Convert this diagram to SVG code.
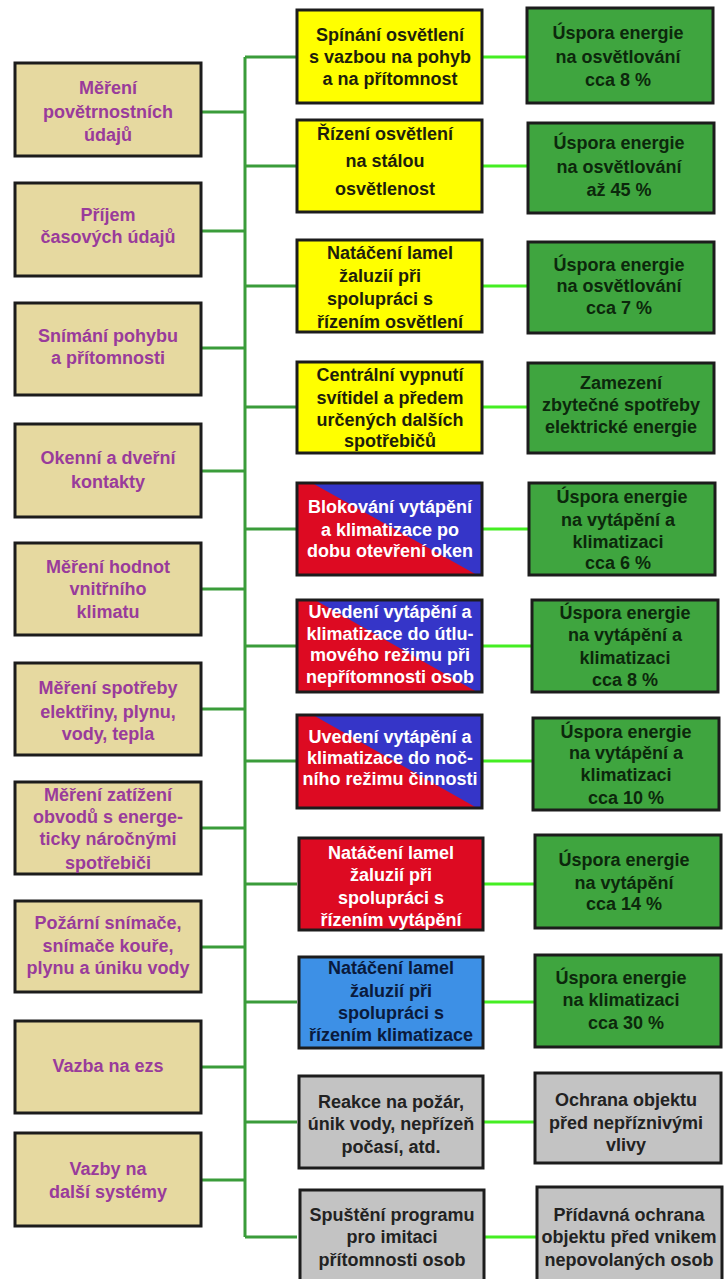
<svg xmlns="http://www.w3.org/2000/svg" width="724" height="1279" viewBox="0 0 724 1279">
<style>
.box{stroke:#1c1c1c;stroke-width:3}
.src{fill:#e6d9a0}
.yel{fill:#ffff00}
.grn{fill:#3fa53f}
.red{fill:#dd0a22}
.blu{fill:#3535c8}
.lbl{fill:#3d90e6}
.gry{fill:#c3c3c3}
text{font-family:"Liberation Sans",Arial,sans-serif;font-weight:bold;font-size:18px;text-anchor:middle}
.tp{fill:#993b9b}
.td{fill:#1e1e0c}
.tg{fill:#0c280c}
.tw{fill:#ffffff}
.tb{fill:#0a1a3c}
.tk{fill:#222222}
.cd{stroke:#3a9c3a;stroke-width:3;fill:none}
.cb{stroke:#44ee22;stroke-width:3;fill:none}
</style>
<rect width="724" height="1279" fill="#ffffff"/>
<g id="connectors">
<path class="cd" d="M201 112H245M201 231H245M201 348H245M201 471H245M201 589H245M201 709H245M201 828H245M201 947H245M201 1067H245M201 1180H245"/>
<path class="cd" d="M245 57V1237"/>
<path class="cd" d="M245 57H297M245 166H297M245 286H297M245 407H297M245 529H297M245 646H297M245 761H297M245 884H297M245 1002H297M245 1122H297M245 1237H297"/>
<path class="cb" d="M482 57H527M482 166H527M482 286H527M482 407H527M482 529H529M482 646H532M482 761H533M482 884H535M482 1002H535M482 1122H535M482 1237H537"/>
</g>
<g id="s1"><rect class="box src" x="15" y="63" width="186" height="93"/><text class="tp"><tspan x="108" y="94">Měření</tspan><tspan x="108" y="118">povětrnostních</tspan><tspan x="108" y="141">údajů</tspan></text></g>
<g id="s2"><rect class="box src" x="15" y="183" width="186" height="93"/><text class="tp"><tspan x="108" y="221">Příjem</tspan><tspan x="108" y="243">časových údajů</tspan></text></g>
<g id="s3"><rect class="box src" x="15" y="303" width="186" height="92"/><text class="tp"><tspan x="108" y="342">Snímání pohybu</tspan><tspan x="108" y="364">a přítomnosti</tspan></text></g>
<g id="s4"><rect class="box src" x="15" y="424" width="186" height="93"/><text class="tp"><tspan x="108" y="464">Okenní a dveřní</tspan><tspan x="108" y="488">kontakty</tspan></text></g>
<g id="s5"><rect class="box src" x="15" y="543" width="186" height="92"/><text class="tp"><tspan x="108" y="573">Měření hodnot</tspan><tspan x="108" y="595">vnitřního</tspan><tspan x="108" y="618">klimatu</tspan></text></g>
<g id="s6"><rect class="box src" x="15" y="663" width="186" height="92"/><text class="tp"><tspan x="108" y="694">Měření spotřeby</tspan><tspan x="108" y="718">elektřiny, plynu,</tspan><tspan x="108" y="740">vody, tepla</tspan></text></g>
<g id="s7"><rect class="box src" x="15" y="782" width="186" height="92"/><text class="tp"><tspan x="108" y="801">Měření zatížení</tspan><tspan x="108" y="823">obvodů s energe-</tspan><tspan x="108" y="845">ticky náročnými</tspan><tspan x="108" y="869">spotřebiči</tspan></text></g>
<g id="s8"><rect class="box src" x="15" y="901" width="186" height="91"/><text class="tp"><tspan x="108" y="929">Požární snímače,</tspan><tspan x="108" y="952">snímače kouře,</tspan><tspan x="108" y="974">plynu a úniku vody</tspan></text></g>
<g id="s9"><rect class="box src" x="15" y="1021" width="186" height="92"/><text class="tp"><tspan x="108" y="1072">Vazba na ezs</tspan></text></g>
<g id="s10"><rect class="box src" x="15" y="1133" width="186" height="93"/><text class="tp"><tspan x="108" y="1175">Vazby na</tspan><tspan x="108" y="1198">další systémy</tspan></text></g>

<g id="m1"><rect class="box yel" x="297" y="10" width="185" height="93"/><text class="td"><tspan x="390" y="41">Spínání osvětlení</tspan><tspan x="390" y="63">s vazbou na pohyb</tspan><tspan x="390" y="85">a na přítomnost</tspan></text></g>
<g id="m2"><rect class="box yel" x="297" y="120" width="185" height="92"/><text class="td"><tspan x="385" y="140">Řízení osvětlení</tspan><tspan x="385" y="167">na stálou</tspan><tspan x="385" y="195">osvětlenost</tspan></text></g>
<g id="m3"><rect class="box yel" x="297" y="240" width="185" height="92"/><text class="td"><tspan x="390" y="259">Natáčení lamel</tspan><tspan x="380" y="282">žaluzií při</tspan><tspan x="380" y="305">spolupráci s</tspan><tspan x="390" y="328">řízením osvětlení</tspan></text></g>
<g id="m4"><rect class="box yel" x="297" y="362" width="185" height="91"/><text class="td"><tspan x="390" y="381">Centrální vypnutí</tspan><tspan x="390" y="404">svítidel a předem</tspan><tspan x="390" y="426">určených dalších</tspan><tspan x="390" y="447">spotřebičů</tspan></text></g>
<g id="m5"><rect class="blu" x="297" y="483" width="185" height="92"/><polygon class="red" points="297,483 312,483 477,575 297,575"/><rect class="box" fill="none" x="297" y="483" width="185" height="92"/><text class="tw"><tspan x="390" y="513">Blokování vytápění</tspan><tspan x="390" y="536">a klimatizace po</tspan><tspan x="390" y="557">dobu otevření oken</tspan></text></g>
<g id="m6"><rect class="blu" x="297" y="600" width="185" height="92"/><polygon class="red" points="297,600 315,600 477,692 297,692"/><rect class="box" fill="none" x="297" y="600" width="185" height="92"/><text class="tw"><tspan x="390" y="618">Uvedení vytápění a</tspan><tspan x="390" y="640">klimatizace do útlu-</tspan><tspan x="390" y="661">mového režimu při</tspan><tspan x="390" y="683">nepřítomnosti osob</tspan></text></g>
<g id="m7"><rect class="blu" x="297" y="715" width="185" height="93"/><polygon class="red" points="297,715 313,715 477,808 297,808"/><rect class="box" fill="none" x="297" y="715" width="185" height="93"/><text class="tw"><tspan x="390" y="743">Uvedení vytápění a</tspan><tspan x="390" y="764">klimatizace do noč-</tspan><tspan x="390" y="785">ního režimu činnosti</tspan></text></g>
<g id="m8"><rect class="box red" x="299" y="838" width="184" height="92"/><text class="tw"><tspan x="391" y="859">Natáčení lamel</tspan><tspan x="391" y="881">žaluzií při</tspan><tspan x="391" y="904">spolupráci s</tspan><tspan x="391" y="926">řízením vytápění</tspan></text></g>
<g id="m9"><rect class="box lbl" x="299" y="957" width="184" height="91"/><text class="tb"><tspan x="391" y="974">Natáčení lamel</tspan><tspan x="391" y="997">žaluzií při</tspan><tspan x="391" y="1019">spolupráci s</tspan><tspan x="391" y="1041">řízením klimatizace</tspan></text></g>
<g id="m10"><rect class="box gry" x="299" y="1076" width="184" height="92"/><text class="tk"><tspan x="391" y="1108">Reakce na požár,</tspan><tspan x="391" y="1130">únik vody, nepřízeň</tspan><tspan x="391" y="1153">počasí, atd.</tspan></text></g>
<g id="m11"><rect class="box gry" x="300" y="1190" width="184" height="95"/><text class="tk"><tspan x="392" y="1221">Spuštění programu</tspan><tspan x="392" y="1243">pro imitaci</tspan><tspan x="392" y="1266">přítomnosti osob</tspan></text></g>

<g id="r1"><rect class="box grn" x="527" y="8" width="186" height="95"/><text class="tg"><tspan x="618" y="39">Úspora energie</tspan><tspan x="618" y="63">na osvětlování</tspan><tspan x="618" y="86">cca 8 %</tspan></text></g>
<g id="r2"><rect class="box grn" x="528" y="123" width="186" height="90"/><text class="tg"><tspan x="619" y="149">Úspora energie</tspan><tspan x="619" y="173">na osvětlování</tspan><tspan x="619" y="196">až 45 %</tspan></text></g>
<g id="r3"><rect class="box grn" x="528" y="242" width="186" height="91"/><text class="tg"><tspan x="619" y="271">Úspora energie</tspan><tspan x="619" y="292">na osvětlování</tspan><tspan x="619" y="314">cca 7 %</tspan></text></g>
<g id="r4"><rect class="box grn" x="528" y="363" width="186" height="90"/><text class="tg"><tspan x="621" y="389">Zamezení</tspan><tspan x="621" y="411">zbytečné spotřeby</tspan><tspan x="621" y="433">elektrické energie</tspan></text></g>
<g id="r5"><rect class="box grn" x="529" y="483" width="186" height="92"/><text class="tg"><tspan x="622" y="503">Úspora energie</tspan><tspan x="618" y="526">na vytápění a</tspan><tspan x="618" y="548">klimatizaci</tspan><tspan x="618" y="569">cca 6 %</tspan></text></g>
<g id="r6"><rect class="box grn" x="532" y="600" width="186" height="92"/><text class="tg"><tspan x="625" y="619">Úspora energie</tspan><tspan x="625" y="641">na vytápění a</tspan><tspan x="625" y="664">klimatizaci</tspan><tspan x="625" y="686">cca 8 %</tspan></text></g>
<g id="r7"><rect class="box grn" x="533" y="718" width="186" height="92"/><text class="tg"><tspan x="626" y="738">Úspora energie</tspan><tspan x="626" y="759">na vytápění a</tspan><tspan x="626" y="781">klimatizaci</tspan><tspan x="626" y="804">cca 10 %</tspan></text></g>
<g id="r8"><rect class="box grn" x="535" y="835" width="186" height="93"/><text class="tg"><tspan x="624" y="866">Úspora energie</tspan><tspan x="624" y="889">na vytápění</tspan><tspan x="624" y="910">cca 14 %</tspan></text></g>
<g id="r9"><rect class="box grn" x="535" y="955" width="186" height="92"/><text class="tg"><tspan x="621" y="984">Úspora energie</tspan><tspan x="621" y="1006">na klimatizaci</tspan><tspan x="626" y="1029">cca 30 %</tspan></text></g>
<g id="r10"><rect class="box gry" x="535" y="1073" width="186" height="90"/><text class="tk"><tspan x="626" y="1106">Ochrana objektu</tspan><tspan x="626" y="1129">před nepříznivými</tspan><tspan x="626" y="1151">vlivy</tspan></text></g>
<g id="r11"><rect class="box gry" x="537" y="1187" width="185" height="98"/><text class="tk"><tspan x="629" y="1221">Přídavná ochrana</tspan><tspan x="629" y="1243">objektu před vnikem</tspan><tspan x="629" y="1266">nepovolaných osob</tspan></text></g>
</svg>
